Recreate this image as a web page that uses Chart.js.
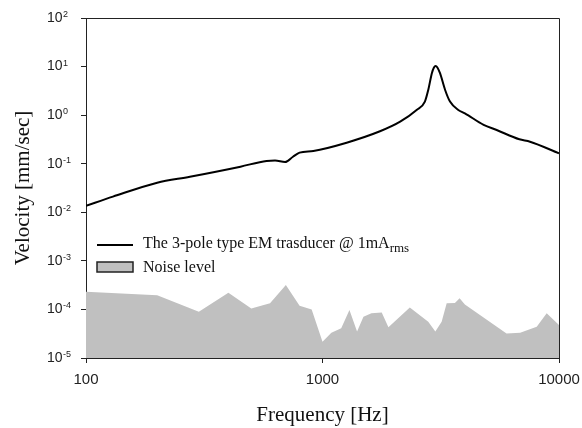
<!DOCTYPE html>
<html>
<head>
<meta charset="utf-8">
<script src="https://cdn.jsdelivr.net/npm/chart.js@4/dist/chart.umd.min.js"></script>
<style>
  body { margin: 0; background: #fff; }
  #wrap { width: 582px; height: 428px; }
</style>
</head>
<body>
<div id="wrap"><canvas id="chart"></canvas></div>
<script>
// transducer response @ 1mA rms
var freqEM = [100, 130, 200, 275, 450, 580, 630, 695, 750, 800, 915, 1265, 1750, 2130, 2500, 2710, 2800, 2900, 2960, 3010, 3060, 3140, 3300, 3460, 3750, 4000, 4800, 5450, 6800, 7540, 10000];
var velEM = [0.0136, 0.021, 0.0407, 0.054, 0.087, 0.114, 0.116, 0.108, 0.139, 0.169, 0.183, 0.271, 0.465, 0.733, 1.28, 1.9, 3.3, 7.3, 9.6, 10.3, 9.6, 7.3, 3.3, 1.9, 1.28, 1.09, 0.63, 0.494, 0.318, 0.284, 0.164];

// noise level
var freqNoise = [100, 200, 300, 400, 500, 600, 700, 800, 900, 1000, 1090, 1200, 1300, 1400, 1490, 1610, 1780, 1900, 2340, 2800, 3000, 3190, 3350, 3630, 3800, 4000, 6000, 6850, 8050, 8870, 10000];
var velNoise = [2.3e-4, 1.95e-4, 9e-5, 2.2e-4, 1.05e-4, 1.34e-4, 3.2e-4, 1.19e-4, 1.0e-4, 2.16e-5, 3.3e-5, 4.1e-5, 9.7e-5, 3.5e-5, 7.1e-5, 8.3e-5, 8.6e-5, 4.3e-5, 1.1e-4, 5.6e-5, 3.5e-5, 5.6e-5, 1.34e-4, 1.36e-4, 1.7e-4, 1.26e-4, 3.2e-5, 3.3e-5, 4.4e-5, 8.3e-5, 4.8e-5];

var xTicks = [100, 1000, 10000];
var yExps = [-5, -4, -3, -2, -1, 0, 1, 2];

var legendEM = 'The 3-pole type EM trasducer @ 1mA';
var legendEMSub = 'rms';
var legendNoise = 'Noise level';

function toPoints(xs, ys) {
    return xs.map(function(x, i) { return { x: x, y: ys[i] }; });
}

var sans = 'Liberation Sans, Arial, sans-serif';
var serif = 'Liberation Serif, Times New Roman, serif';

// frame, superscript tick labels and legend
var extras = {
    id: 'extras',
    afterDraw: function(chart) {
        var ctx = chart.ctx;
        var a = chart.chartArea;
        var ys = chart.scales.y;
        ctx.save();
        ctx.strokeStyle = '#222';
        ctx.lineWidth = 1;
        ctx.beginPath();
        ctx.moveTo(a.left, a.top + 0.5);
        ctx.lineTo(a.right + 0.5, a.top + 0.5);
        ctx.lineTo(a.right + 0.5, a.bottom);
        ctx.stroke();

        // y tick labels 10^n
        ctx.fillStyle = '#222';
        yExps.forEach(function(e) {
            var py = ys.getPixelForValue(Math.pow(10, e));
            ctx.font = '14px ' + sans;
            ctx.textAlign = 'left';
            ctx.textBaseline = 'middle';
            ctx.fillText('10', 47, py);
            var w = ctx.measureText('10').width;
            ctx.font = '9px ' + sans;
            ctx.textBaseline = 'alphabetic';
            ctx.fillText(String(e), 47 + w + 0.5, py - 1);
        });

        // legend
        ctx.strokeStyle = '#000';
        ctx.lineWidth = 2;
        ctx.beginPath();
        ctx.moveTo(97, 245);
        ctx.lineTo(133, 245);
        ctx.stroke();
        ctx.fillStyle = '#c0c0c0';
        ctx.fillRect(97, 262, 36, 10);
        ctx.lineWidth = 1.5;
        ctx.strokeStyle = '#222';
        ctx.strokeRect(97, 262, 36, 10);

        ctx.fillStyle = '#111';
        ctx.textAlign = 'left';
        ctx.textBaseline = 'alphabetic';
        ctx.font = '16px ' + serif;
        ctx.fillText(legendEM, 143, 248);
        var lw = ctx.measureText(legendEM).width;
        ctx.font = '13px ' + serif;
        ctx.fillText(legendEMSub, 143 + lw, 252);
        ctx.font = '16px ' + serif;
        ctx.fillText(legendNoise, 143, 272);
        ctx.restore();
    }
};

var ctx = document.getElementById('chart');
var chart = new Chart(ctx, {
    type: 'line',
    data: {
        datasets: [
            {
                label: 'EM',
                data: toPoints(freqEM, velEM),
                borderColor: '#000',
                borderWidth: 2,
                pointRadius: 0,
                cubicInterpolationMode: 'monotone',
                fill: false,
                order: 1
            },
            {
                label: 'Noise',
                data: toPoints(freqNoise, velNoise),
                borderWidth: 0,
                borderColor: 'rgba(0,0,0,0)',
                backgroundColor: '#c0c0c0',
                pointRadius: 0,
                tension: 0,
                fill: 'start',
                order: 2
            }
        ]
    },
    options: {
        responsive: true,
        maintainAspectRatio: false,
        animation: false,
        devicePixelRatio: 1,
        layout: { padding: { top: 18, right: 23, left: 0, bottom: 0 } },
        plugins: {
            legend: { display: false },
            tooltip: { enabled: false }
        },
        scales: {
            x: {
                type: 'logarithmic',
                min: 100,
                max: 10000,
                afterBuildTicks: function(scale) {
                    scale.ticks = xTicks.map(function(v) { return { value: v }; });
                },
                afterFit: function(scale) {
                    scale.height = 70;
                    scale.paddingLeft = 0;
                    scale.paddingRight = 0;
                },
                grid: { display: true, drawOnChartArea: false, drawTicks: true, tickLength: 5, color: '#222' },
                border: { display: true, color: '#222', width: 1 },
                ticks: {
                    autoSkip: false,
                    maxRotation: 0,
                    padding: 8,
                    color: '#222',
                    font: { family: sans, size: 15 },
                    callback: function(v) { return String(v); }
                },
                title: {
                    display: true,
                    text: 'Frequency [Hz]',
                    color: '#111',
                    font: { family: serif, size: 21 },
                    padding: { top: 0, bottom: 0 }
                }
            },
            y: {
                type: 'logarithmic',
                min: 1e-5,
                max: 1e2,
                afterBuildTicks: function(scale) {
                    scale.ticks = yExps.map(function(e) { return { value: Math.pow(10, e) }; });
                },
                afterFit: function(scale) {
                    scale.width = 86;
                    scale.paddingTop = 0;
                    scale.paddingBottom = 0;
                },
                grid: { display: true, drawOnChartArea: false, drawTicks: true, tickLength: 5, color: '#222' },
                border: { display: true, color: '#222', width: 1 },
                ticks: {
                    color: 'rgba(0,0,0,0)',
                    callback: function() { return ''; }
                },
                title: {
                    display: true,
                    text: 'Velocity [mm/sec]',
                    color: '#111',
                    font: { family: serif, size: 21 },
                    padding: { top: 11, bottom: 0 }
                }
            }
        }
    },
    plugins: [extras]
});
</script>
</body>
</html>
